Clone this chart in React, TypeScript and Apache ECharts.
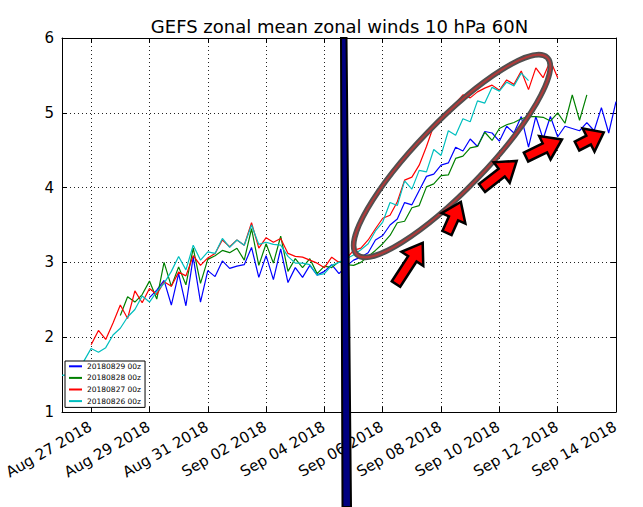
import React, { useEffect, useRef } from 'react';
import * as echarts from 'echarts';

const FONT = 'DejaVu Sans';
const STEP = 0.25; // 6-hourly samples, in days

// x axis is measured in days after 2018-08-26 00z
const tickDays = [1, 3, 5, 7, 9, 11, 13, 15, 17, 19];
const tickLabels = [
  'Aug 27 2018', 'Aug 29 2018', 'Aug 31 2018', 'Sep 02 2018', 'Sep 04 2018',
  'Sep 06 2018', 'Sep 08 2018', 'Sep 10 2018', 'Sep 12 2018', 'Sep 14 2018',
];
const X_MIN = 0;
const X_MAX = 19;
const Y_MIN = 1;
const Y_MAX = 6;

const runNames = ['20180829 00z', '20180828 00z', '20180827 00z', '20180826 00z'];
const runColors = ['#0000ff', '#008000', '#ff0000', '#00bfbf'];
const runStartDays = [3, 2, 1, 0];

// zonal mean zonal wind at 10 hPa, 60N (m/s), one value per 6 h from each run's start
const run0829 = [
  2.53, 2.63, 2.76, 2.43, 2.85, 2.42, 3.07, 2.47, 2.89, 2.81,
  3.02, 2.92, 2.95, 2.97, 3.20, 2.80, 3.09, 2.77, 3.18, 2.73,
  2.93, 2.80, 2.96, 2.83, 2.88, 2.97, 2.85, 2.95, 3.03, 3.07,
  3.13, 3.30, 3.36, 3.50, 3.58, 3.80, 3.77, 3.96, 4.15, 4.18,
  4.30, 4.33, 4.54, 4.49, 4.65, 4.55, 4.75, 4.73, 4.62, 4.82,
  4.73, 4.95, 4.54, 4.95, 4.65, 4.95, 4.68, 4.82, 4.79, 4.76,
  4.87, 4.76, 5.07, 4.73, 5.15,
];
const run0828 = [
  2.29, 2.54, 2.47, 2.57, 2.75, 2.51, 3.00, 2.68, 2.94, 2.70,
  3.19, 2.72, 3.04, 3.09, 3.16, 3.13, 3.19, 3.03, 3.45, 2.96,
  3.25, 2.99, 3.35, 2.88, 3.05, 2.93, 3.05, 2.85, 2.95, 2.93,
  3.01, 2.97, 2.96, 3.00, 3.08, 3.16, 3.25, 3.36, 3.53, 3.55,
  3.73, 3.76, 4.01, 4.05, 4.16, 4.17, 4.39, 4.42, 4.53, 4.55,
  4.74, 4.63, 4.79, 4.84, 4.87, 4.92, 4.95, 4.95, 4.94, 4.89,
  5.00, 4.86, 5.24, 4.90, 5.24,
];
const run0827 = [
  1.90, 2.09, 1.97, 2.19, 2.43, 2.25, 2.62, 2.46, 2.65, 2.57,
  2.74, 2.68, 2.87, 2.82, 3.09, 2.96, 3.06, 3.12, 3.30, 3.21,
  3.30, 3.23, 3.53, 3.19, 3.33, 3.27, 3.32, 3.12, 3.08, 3.07,
  3.03, 2.99, 2.93, 3.07, 3.00, 3.05, 3.16, 3.19, 3.30, 3.45,
  3.59, 3.63, 3.81, 4.10, 4.14, 4.30, 4.55, 4.83, 4.89, 5.00,
  5.13, 5.24, 5.20, 5.28, 5.33, 5.37, 5.30, 5.44, 5.38, 5.56,
  5.31, 5.60, 5.47, 5.70, 5.47,
];
const run0826 = [
  1.49, 1.50, 1.55, 1.68, 1.85, 1.80, 1.86, 2.03, 2.12, 2.27,
  2.37, 2.55, 2.47, 2.61, 2.72, 2.88, 3.08, 2.90, 3.23, 3.03,
  3.14, 3.12, 3.32, 3.20, 3.30, 3.23, 3.50, 3.24, 3.27, 3.24,
  3.23, 3.08, 2.99, 2.99, 2.97, 2.83, 2.85, 2.96, 3.00, 3.05,
  3.10, 3.17, 3.25, 3.42, 3.54, 3.80, 3.76, 4.09, 3.98, 4.23,
  4.21, 4.51, 4.43, 4.76, 4.70, 4.92, 4.88, 5.16, 5.13, 5.34,
  5.29, 5.41, 5.36, 5.53, 5.43,
];
const runValues = [run0829, run0828, run0827, run0826];

// block arrow pointing along +x, tail at the origin
function arrowPoints(len: number, headLen: number, headW: number, shaftW: number) {
  const b = len - headLen;
  return [
    [0, -shaftW / 2], [b, -shaftW / 2], [b, -headW / 2], [len, 0],
    [b, headW / 2], [b, shaftW / 2], [0, shaftW / 2],
  ];
}

const arrows = [
  { x: 396, y: 284, angle: 57, len: 49, head: 19 },
  { x: 447, y: 233, angle: 66, len: 34, head: 18 },
  { x: 482, y: 188, angle: 38, len: 44, head: 19 },
  { x: 526, y: 157, angle: 26, len: 40, head: 19 },
  { x: 577, y: 146, angle: 27, len: 30, head: 17 },
];

const axisLineStyle = { color: '#000', width: 1 };
const gridLineStyle = { color: '#222', width: 1, type: [1, 3] as number[] };

function overlayGraphics(): any[] {
  return [
    {
      id: 'title',
      type: 'text',
      x: 339.5,
      y: 26,
      style: {
        text: 'GEFS zonal mean zonal winds 10 hPa 60N',
        fontFamily: FONT,
        fontSize: 18,
        fill: '#000',
        textAlign: 'center',
        textVerticalAlign: 'middle',
      },
    },
    {
      id: 'marker-bar',
      type: 'polygon',
      z: 100,
      shape: { points: [[341, 38], [346.5, 38], [351, 507], [342.5, 507]] },
      style: { fill: '#000080', stroke: '#000', lineWidth: 2 },
    },
    {
      id: 'ring-outer',
      type: 'ellipse',
      z: 100,
      x: 452,
      y: 156,
      rotation: (46 * Math.PI) / 180,
      shape: { cx: 0, cy: 0, rx: 137, ry: 34 },
      style: { fill: 'none', stroke: '#505050', lineWidth: 5.5 },
    },
    {
      id: 'ring-inner',
      type: 'ellipse',
      z: 101,
      x: 452,
      y: 156,
      rotation: (46 * Math.PI) / 180,
      shape: { cx: 0, cy: 0, rx: 137, ry: 34 },
      style: { fill: 'none', stroke: '#b03a3a', lineWidth: 2 },
    },
    ...arrows.map((a, k) => ({
      id: 'arrow' + k,
      type: 'polygon',
      z: 102,
      x: a.x,
      y: a.y,
      rotation: (a.angle * Math.PI) / 180,
      shape: { points: arrowPoints(a.len, a.head, 26, 10) },
      style: { fill: '#ff0000', stroke: '#000', lineWidth: 2.5, lineJoin: 'miter' },
    })),
  ];
}

function buildOption(): echarts.EChartsCoreOption {
  const series = runNames.map((name, k) => ({
    type: 'line',
    name,
    data: runValues[k].map((v, i) => [runStartDays[k] + i * STEP, v]),
    showSymbol: false,
    symbol: 'none',
    silent: true,
    lineStyle: { color: runColors[k], width: 1.2 },
    itemStyle: { color: runColors[k] },
  }));

  return {
    animation: false,
    backgroundColor: '#fff',
    textStyle: { fontFamily: FONT },
    grid: { left: 62, top: 38, width: 554, height: 374, containLabel: false, outerBoundsMode: 'none' },
    legend: {
      data: runNames.map((n, k) => ({ name: n, icon: 'rect', itemStyle: { color: runColors[k] } })),
      orient: 'vertical',
      left: 65,
      top: 361,
      itemWidth: 13,
      itemHeight: 2,
      itemGap: 3,
      padding: [1, 4, 2, 4],
      backgroundColor: '#fff',
      borderColor: '#000',
      borderWidth: 1,
      selectedMode: false,
      textStyle: { fontSize: 7.5, lineHeight: 8.6, color: '#000', fontFamily: FONT },
    },
    xAxis: [
      {
        type: 'value',
        position: 'bottom',
        min: X_MIN,
        max: X_MAX,
        axisLine: { show: true, onZero: false, lineStyle: axisLineStyle },
        axisTick: { show: true, inside: true, length: 5, customValues: tickDays, lineStyle: axisLineStyle },
        // date labels are drawn as rotated graphic texts at the tick positions
        axisLabel: { show: false, customValues: tickDays },
        splitLine: { show: true, lineStyle: gridLineStyle },
      },
      {
        type: 'value',
        position: 'top',
        min: X_MIN,
        max: X_MAX,
        axisLine: { show: true, onZero: false, lineStyle: axisLineStyle },
        axisTick: { show: true, inside: true, length: 5, customValues: tickDays, lineStyle: axisLineStyle },
        axisLabel: { show: false },
        splitLine: { show: false },
      },
    ],
    yAxis: [
      {
        type: 'value',
        min: Y_MIN,
        max: Y_MAX,
        interval: 1,
        axisLine: { show: true, onZero: false, lineStyle: axisLineStyle },
        axisTick: { show: true, inside: true, length: 5, lineStyle: axisLineStyle },
        axisLabel: { margin: 8, fontSize: 15, color: '#000', fontFamily: FONT },
        splitLine: { show: true, lineStyle: gridLineStyle },
      },
      {
        type: 'value',
        position: 'right',
        min: Y_MIN,
        max: Y_MAX,
        interval: 1,
        axisLine: { show: true, onZero: false, lineStyle: axisLineStyle },
        axisTick: { show: true, inside: true, length: 5, lineStyle: axisLineStyle },
        axisLabel: { show: false },
        splitLine: { show: false },
      },
    ],
    series,
    graphic: overlayGraphics(),
  };
}

export default function App() {
  const ref = useRef<HTMLDivElement>(null);
  useEffect(() => {
    document.body.style.margin = '0';
    const chart = echarts.init(ref.current!, null, { renderer: 'svg' });
    chart.setOption(buildOption());

    // rotated date labels, right end anchored just below each tick
    const axisY = chart.convertToPixel({ yAxisIndex: 0 }, Y_MIN) as number;
    const dateLabels = tickDays.map((d, k) => {
      const px = chart.convertToPixel({ xAxisIndex: 0 }, d) as number;
      return {
        id: 'xlabel' + k,
        type: 'text',
        z: 50,
        x: px - 4.5,
        y: axisY + 7,
        rotation: Math.PI / 6,
        style: {
          text: tickLabels[k],
          fontFamily: FONT,
          fontSize: 15,
          fill: '#000',
          textAlign: 'right',
          textVerticalAlign: 'top',
        },
      };
    });
    chart.setOption({ graphic: [...overlayGraphics(), ...dateLabels] });
    return () => chart.dispose();
  }, []);
  return (
    <div
      ref={ref}
      style={{ position: 'absolute', left: 0, top: 0, width: 643, height: 507 }}
    />
  );
}
